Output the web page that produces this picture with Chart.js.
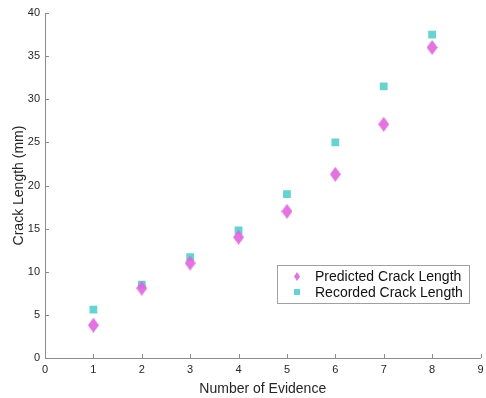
<!DOCTYPE html>
<html>
<head>
<meta charset="utf-8">
<script src="https://cdn.jsdelivr.net/npm/chart.js@4.4.0/dist/chart.umd.min.js"></script>
<style>
  html, body { margin: 0; padding: 0; background: #fff; }
  #wrap { width: 486px; height: 398px; position: relative; }
</style>
</head>
<body>
<div id="wrap"><canvas id="crackChart"></canvas></div>
<script>
// Crack length per evidence step
const evidence = [1, 2, 3, 4, 5, 6, 7, 8];
const predicted = [3.8, 8.1, 11.0, 14.0, 17.0, 21.3, 27.1, 36.0];
const recorded = [5.6, 8.5, 11.7, 14.8, 19.0, 25.0, 31.5, 37.5];
const xTicks = [0, 1, 2, 3, 4, 5, 6, 7, 8, 9];
const yTicks = [0, 5, 10, 15, 20, 25, 30, 35, 40];

const magenta = "rgba(224, 100, 222, 0.9)";
const teal = "rgba(86, 205, 205, 0.9)";
const axisColor = "#8c8c8c";
const textColor = "#262626";
const font = "'Liberation Sans', Arial, Helvetica, sans-serif";

// Tall diamond marker
function makeDiamond(w, h, color) {
  const c = document.createElement("canvas");
  c.width = w;
  c.height = h;
  const g = c.getContext("2d");
  g.fillStyle = color;
  g.beginPath();
  g.moveTo(w / 2, 0);
  g.lineTo(w, h / 2);
  g.lineTo(w / 2, h);
  g.lineTo(0, h / 2);
  g.closePath();
  g.fill();
  return c;
}

const diamond = makeDiamond(11, 15, magenta);

// Inward ticks + legend box inside the plot
const decorations = {
  id: "decorations",
  afterDraw(chart) {
    const { ctx, chartArea, scales } = chart;
    ctx.save();
    ctx.strokeStyle = axisColor;
    ctx.lineWidth = 1;
    yTicks.forEach((v) => {
      const y = Math.round(scales.y.getPixelForValue(v)) + 0.5;
      ctx.beginPath();
      ctx.moveTo(chartArea.left, y);
      ctx.lineTo(chartArea.left + 4, y);
      ctx.stroke();
    });
    xTicks.forEach((v) => {
      const x = Math.round(scales.x.getPixelForValue(v)) + 0.5;
      ctx.beginPath();
      ctx.moveTo(x, chartArea.bottom);
      ctx.lineTo(x, chartArea.bottom - 4);
      ctx.stroke();
    });

    // legend
    const bx = 277.5, by = 265.5, bw = 192, bh = 38;
    ctx.fillStyle = "#fff";
    ctx.fillRect(bx, by, bw, bh);
    ctx.strokeStyle = "#a0a0a0";
    ctx.strokeRect(bx, by, bw, bh);
    ctx.drawImage(makeDiamond(6, 9, magenta), 294, 272);
    ctx.fillStyle = teal;
    ctx.fillRect(294, 289, 6, 6);
    ctx.fillStyle = "#111";
    ctx.font = "14px " + font;
    ctx.textBaseline = "middle";
    ctx.fillText("Predicted Crack Length", 315, 277);
    ctx.fillText("Recorded Crack Length", 315, 293);
    ctx.restore();
  },
};

new Chart(document.getElementById("crackChart"), {
  type: "scatter",
  data: {
    datasets: [
      {
        label: "Predicted Crack Length",
        data: evidence.map((x, i) => ({ x, y: predicted[i] })),
        pointStyle: diamond,
        backgroundColor: magenta,
        borderWidth: 0,
      },
      {
        label: "Recorded Crack Length",
        data: evidence.map((x, i) => ({ x, y: recorded[i] })),
        pointStyle: "rect",
        pointRadius: 5.5,
        backgroundColor: teal,
        borderWidth: 0,
      },
    ],
  },
  options: {
    responsive: true,
    maintainAspectRatio: false,
    animation: false,
    layout: { padding: { top: 13, right: 5, left: 0, bottom: 0 } },
    plugins: {
      legend: { display: false },
      tooltip: { enabled: false },
    },
    scales: {
      x: {
        type: "linear",
        min: 0,
        max: 9,
        afterBuildTicks: (axis) => {
          axis.ticks = xTicks.map((v) => ({ value: v }));
        },
        afterFit: (axis) => {
          axis.height = 40;
          axis.paddingLeft = 0;
          axis.paddingRight = 0;
        },
        grid: { display: false, drawTicks: false },
        border: { display: true, color: axisColor },
        ticks: {
          color: textColor,
          padding: 5,
          maxRotation: 0,
          font: { family: font, size: 11 },
        },
        title: {
          display: true,
          text: "Number of Evidence",
          color: textColor,
          padding: { top: 2, bottom: 0 },
          font: { family: font, size: 14 },
        },
      },
      y: {
        type: "linear",
        min: 0,
        max: 40,
        afterBuildTicks: (axis) => {
          axis.ticks = yTicks.map((v) => ({ value: v }));
        },
        afterFit: (axis) => {
          axis.width = 45;
          axis.paddingTop = 0;
          axis.paddingBottom = 0;
        },
        grid: { display: false, drawTicks: false },
        border: { display: true, color: axisColor },
        ticks: {
          color: textColor,
          padding: 5,
          font: { family: font, size: 11 },
        },
        title: {
          display: true,
          text: "Crack Length (mm)",
          color: textColor,
          padding: { top: 11, bottom: 0 },
          font: { family: font, size: 14 },
        },
      },
    },
  },
  plugins: [decorations],
});
</script>
</body>
</html>
